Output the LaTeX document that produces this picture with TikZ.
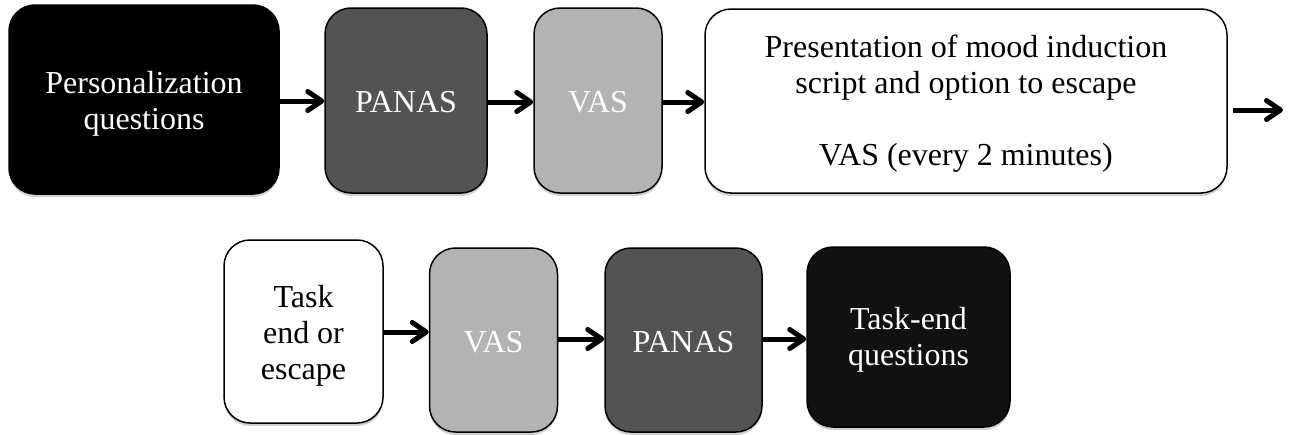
\documentclass[tikz,border=0pt]{standalone}
\usepackage{fontspec}
\setmainfont{Liberation Serif}
\usetikzlibrary{arrows.meta,shadows}
\begin{document}
\begin{tikzpicture}[x=1pt,y=-1pt,
  box/.style={draw=black, line width=1.5pt, rounded corners=26pt, inner sep=0pt,
    drop shadow={shadow xshift=0pt, shadow yshift=-3pt, opacity=0.18, fill=black}},
  blackbox/.style={box, fill=black},
  darkbox/.style={box, fill={rgb,255:red,83;green,83;blue,83}},
  greybox/.style={box, fill={rgb,255:red,179;green,179;blue,179}},
  whitebox/.style={box, fill=white},
  nearblack/.style={box, fill={rgb,255:red,17;green,17;blue,17}},
  lbl/.style={align=center, inner sep=0pt, font=\fontsize{32}{36}\selectfont},
  wlbl/.style={lbl, text=white},
  arr/.style={line width=5pt, -{Straight Barb[length=14pt,width=19pt,line width=5pt,round]}}
]
\useasboundingbox (0,0) rectangle (1293,434);
% top row boxes
\node[blackbox, minimum width=270pt, minimum height=189pt] (p1) at (144,99.5) {};
\node[darkbox, minimum width=162pt, minimum height=185pt] (pan1) at (406,100.5) {};
\node[greybox, minimum width=128pt, minimum height=185pt] (vas1) at (598,100.5) {};
\node[whitebox, minimum width=522pt, minimum height=184pt] (mood) at (966,101) {};
\coordinate (out) at (1283,110);
% top row labels
\node[wlbl] (p1t) at ([yshift=-4pt]p1.center) {Personalization\\questions};
\node[wlbl] (pan1t) at ([yshift=-2pt]pan1.center) {PANAS};
\node[wlbl] (vas1t) at ([yshift=-2pt]vas1.center) {VAS};
\node[lbl] (moodt) at ([yshift=-3pt]mood.center) {Presentation of mood induction\\script and option to escape\\[36pt]VAS (every 2 minutes)};
% bottom row boxes
\node[whitebox, minimum width=159pt, minimum height=183pt] (end) at (303.5,331.5) {};
\node[greybox, minimum width=128pt, minimum height=184pt] (vas2) at (493.5,340) {};
\node[darkbox, minimum width=157pt, minimum height=184pt] (pan2) at (683.5,340) {};
\node[nearblack, minimum width=203pt, minimum height=180pt] (teq) at (908.5,337) {};
% bottom row labels
\node[lbl] (endt) at ([yshift=-4pt]end.center) {Task\\end or\\escape};
\node[wlbl] (vas2t) at ([yshift=-2pt]vas2.center) {VAS};
\node[wlbl] (pan2t) at ([yshift=-2pt]pan2.center) {PANAS};
\node[wlbl] (teqt) at ([yshift=-3pt]teq.center) {Task-end\\questions};
% arrows
\draw[arr] ([yshift=-1.5pt]p1.east) -- ([yshift=-1.5pt]p1.east -| pan1.west);
\draw[arr] ([yshift=-1.5pt]pan1.east) -- ([yshift=-1.5pt]pan1.east -| vas1.west);
\draw[arr] ([yshift=-1.5pt]vas1.east) -- ([yshift=-1.5pt]vas1.east -| mood.west);
\draw[arr] ([xshift=5pt,yshift=-9pt]mood.east) -- (out);
\draw[arr] ([yshift=-0.5pt]end.east) -- ([yshift=-0.5pt]end.east -| vas2.west);
\draw[arr] ([yshift=1pt]vas2.east) -- ([yshift=1pt]vas2.east -| pan2.west);
\draw[arr] ([yshift=1pt]pan2.east) -- ([yshift=1pt]pan2.east -| teq.west);
\end{tikzpicture}
\end{document}
